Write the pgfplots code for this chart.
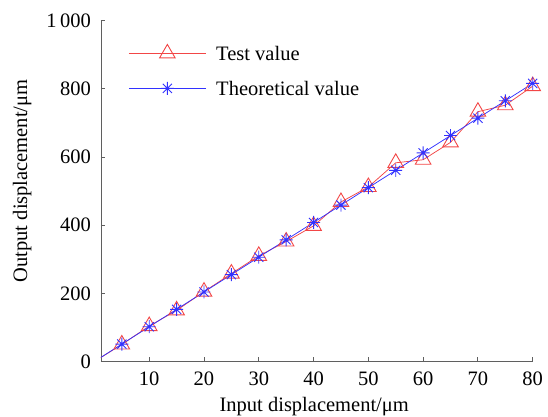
\documentclass[border=0pt]{standalone}
\usepackage{fontspec}
\setmainfont{Liberation Serif}
\usepackage{pgfplots}
\pgfplotsset{compat=1.18}
\definecolor{tred}{RGB}{242,70,70}
\definecolor{tblue}{RGB}{50,50,255}
\definecolor{axgray}{RGB}{95,95,95}
\pgfdeclareplotmark{mstar}{%
  \pgfpathmoveto{\pgfqpoint{0pt}{\pgfplotmarksize}}%
  \pgfpathlineto{\pgfqpoint{0pt}{-\pgfplotmarksize}}%
  \pgfpathmoveto{\pgfqpoint{\pgfplotmarksize}{0pt}}%
  \pgfpathlineto{\pgfqpoint{-\pgfplotmarksize}{0pt}}%
  \pgfpathmoveto{\pgfqpoint{0.7071\pgfplotmarksize}{0.7071\pgfplotmarksize}}%
  \pgfpathlineto{\pgfqpoint{-0.7071\pgfplotmarksize}{-0.7071\pgfplotmarksize}}%
  \pgfpathmoveto{\pgfqpoint{0.7071\pgfplotmarksize}{-0.7071\pgfplotmarksize}}%
  \pgfpathlineto{\pgfqpoint{-0.7071\pgfplotmarksize}{0.7071\pgfplotmarksize}}%
  \pgfusepathqstroke}
\begin{document}
\fontsize{20.5}{24}\selectfont
\begin{tikzpicture}
\begin{axis}[name=ax, scale only axis, width=431.7pt, height=340.8pt,
  xmin=1.2, xmax=80, ymin=0, ymax=1000,
  axis lines*=left, axis line style={axgray, line width=0.9pt},
  tick align=inside, major tick length=4pt, tick style={axgray, line width=0.9pt},
  xtick={10,20,...,80}, ytick={0,200,...,1000},
  yticklabels={0,200,400,600,800,{1\,000}},
  /pgf/number format/assume math mode=true,
  xticklabel style={anchor=north, inner sep=0pt, yshift=-10pt},
  yticklabel style={anchor=east, inner sep=0pt, xshift=-10pt},
  xlabel={Input displacement/μm}, ylabel={Output displacement/μm},
  xlabel style={at={(axis description cs:0.494,0)}, anchor=base, yshift=-49.5pt, inner sep=0pt},
  ylabel style={at={(axis description cs:-0.171,0.53)}, anchor=base, rotate=0, inner sep=0pt},
  legend style={draw=none, fill=none, at={(axis description cs:0.0632,0.931)}, anchor=north west,
    inner sep=0pt, row sep=21pt, column sep=10pt,
    nodes={inner sep=0pt, text height=14pt, text depth=0pt}},
  legend cell align=left,
  legend image code/.code={\draw[mark repeat=2,mark phase=2,#1] plot coordinates {(0pt,0pt) (38.5pt,0pt) (77pt,0pt)};},
]
\addplot[tred, line width=0.75pt, mark=triangle, mark size=9pt, mark options={line width=0.9pt, solid}]
  coordinates {(0,0) (5,50) (10,104) (15,150) (20,205) (25,258) (30,310) (35,352) (40,398) (45,468) (50,512) (55,583) (60,592) (65,643) (70,733) (75,752) (80,808)};
\addlegendentry{Test value}
\addplot[tblue, line width=0.75pt, mark=mstar, mark size=6.5pt, mark options={line width=0.9pt, solid}]
  coordinates {(0,0) (5,51) (10,102) (15,153) (20,204) (25,255) (30,306) (35,357) (40,408) (45,459) (50,510) (55,561) (60,612) (65,663) (70,714) (75,765) (80,816)};
\addlegendentry{Theoretical value}
\end{axis}
\pgfresetboundingbox
\path[use as bounding box] ([shift={(-101pt,-55.5pt)}]ax.south west) rectangle ([shift={(15.3pt,20.7pt)}]ax.north east);
\end{tikzpicture}
\end{document}
